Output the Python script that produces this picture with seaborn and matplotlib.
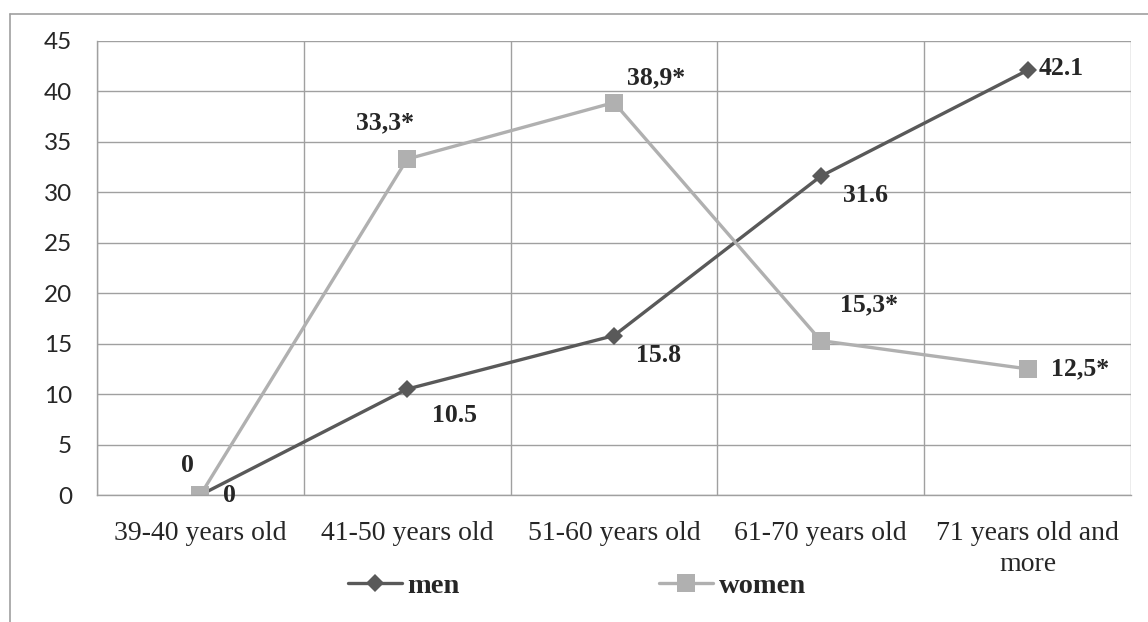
import pandas as pd
import matplotlib.pyplot as plt
import matplotlib.lines as mlines
import seaborn as sns

# --- data ---
age_groups = ['39-40 years old', '41-50 years old', '51-60 years old',
              '61-70 years old', '71 years old and\nmore']
men = [0, 10.5, 15.8, 31.6, 42.1]
women = [0, 33.3, 38.9, 15.3, 12.5]
men_labels = ['0', '10.5', '15.8', '31.6', '42.1']
women_labels = ['0', '33,3*', '38,9*', '15,3*', '12,5*']

# label offsets in points (dx, dy), tuned to the picture
men_offsets = [(21, 0), (34, -19), (32, -14), (32, -14), (24, 1)]
women_offsets = [(-9, 21), (-16, 26), (30, 18), (35, 26), (38, 0)]

MEN_COLOR = '#595959'
WOMEN_COLOR = '#b0b0b0'
GRID_COLOR = '#a0a0a0'

sns.set_style("white")
SERIF = ['Liberation Serif', 'DejaVu Serif']
SANS = ['Lato', 'DejaVu Sans']

df = pd.DataFrame({
    'x': list(range(len(age_groups))) * 2,
    'value': men + women,
    'sex': ['men'] * len(men) + ['women'] * len(women),
})

fig = plt.figure(figsize=(11.48, 6.22), dpi=100)
ax = fig.add_axes([97 / 1148, 127 / 622, (1131 - 97) / 1148, (495 - 41) / 622])

sns.lineplot(data=df, x='x', y='value', hue='sex', style='sex',
             palette={'men': MEN_COLOR, 'women': WOMEN_COLOR},
             markers={'men': 'D', 'women': 's'}, dashes=False,
             linewidth=2.4, markeredgewidth=0, legend=False, ax=ax)
# marker sizes per series
for line, ms in zip(ax.lines, [9.5, 12.5]):
    line.set_markersize(ms)

ax.set_xlim(-0.5, len(age_groups) - 0.5)
ax.set_ylim(0, 45)
ax.set_yticks(range(0, 46, 5))
ax.set_xticks(range(len(age_groups)))
ax.set_xticks([i - 0.5 for i in range(len(age_groups) + 1)], minor=True)
ax.set_xticklabels(age_groups, fontsize=20, family=SERIF, linespacing=1.3)
ax.tick_params(axis='x', which='major', length=0, pad=19)
ax.tick_params(axis='x', which='minor', length=8, color=GRID_COLOR, width=1)
ax.tick_params(axis='y', length=8, color=GRID_COLOR, width=1, pad=10)
for t in ax.get_yticklabels():
    t.set_family(SANS)
    t.set_fontsize(17.5)

ax.set_xlabel('')
ax.set_ylabel('')
ax.grid(True, axis='y', color=GRID_COLOR, linewidth=1)
ax.grid(True, axis='x', which='minor', color=GRID_COLOR, linewidth=1)
ax.set_axisbelow(True)
for side in ['top', 'right']:
    ax.spines[side].set_visible(False)
for side in ['left', 'bottom']:
    ax.spines[side].set_color(GRID_COLOR)
    ax.spines[side].set_linewidth(1)

# data labels
for i, (v, lab, off) in enumerate(zip(men, men_labels, men_offsets)):
    ax.annotate(lab, (i, v), xytext=off, textcoords='offset points',
                ha='center', va='center', fontsize=18.5, fontweight='bold',
                family=SERIF, annotation_clip=False)
for i, (v, lab, off) in enumerate(zip(women, women_labels, women_offsets)):
    ax.annotate(lab, (i, v), xytext=off, textcoords='offset points',
                ha='center', va='center', fontsize=18.5, fontweight='bold',
                family=SERIF, annotation_clip=False)

# legend at the bottom
handles = [
    mlines.Line2D([], [], color=MEN_COLOR, marker='D', markersize=9.5,
                  markeredgewidth=0, linewidth=2.4, label='men'),
    mlines.Line2D([], [], color=WOMEN_COLOR, marker='s', markersize=12.5,
                  markeredgewidth=0, linewidth=2.4, label='women'),
]
fig.legend(handles=handles, loc='center', bbox_to_anchor=(577 / 1148, 36 / 622),
           ncol=2, frameon=False, handlelength=1.9, handletextpad=0.2,
           columnspacing=7.0, prop={'family': SERIF, 'weight': 'bold', 'size': 20.5})

# outer chart border (partly cut off in the source)
fig.add_artist(mlines.Line2D([10 / 1148, 10 / 1148], [0, 1 - 14 / 622],
                             transform=fig.transFigure, color=GRID_COLOR, linewidth=1.2))
fig.add_artist(mlines.Line2D([10 / 1148, 1], [1 - 14 / 622, 1 - 14 / 622],
                             transform=fig.transFigure, color=GRID_COLOR, linewidth=1.2))

fig.savefig('out.png', dpi=100)
